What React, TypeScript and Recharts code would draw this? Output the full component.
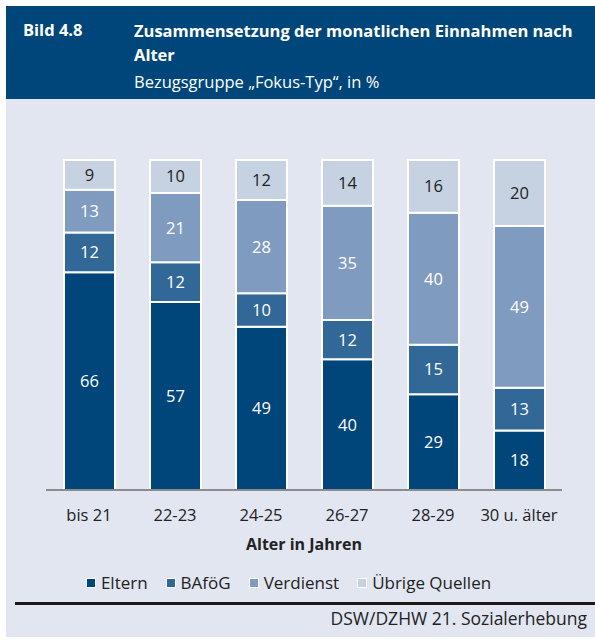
import { BarChart, Bar, XAxis, YAxis, LabelList } from "recharts";

const ages = ["bis 21", "22-23", "24-25", "26-27", "28-29", "30 u. älter"];
const eltern = [66, 57, 49, 40, 29, 18];
const bafoeg = [12, 12, 10, 12, 15, 13];
const verdienst = [13, 21, 28, 35, 40, 49];
const uebrige = [9, 10, 12, 14, 16, 20];

const FONT = "'Open Sans', sans-serif";

const series = [
  { key: "eltern", name: "Eltern", color: "#00467a", text: "#ffffff" },
  { key: "bafoeg", name: "BAföG", color: "#326897", text: "#ffffff" },
  { key: "verdienst", name: "Verdienst", color: "#7f9bbf", text: "#ffffff" },
  { key: "uebrige", name: "Übrige Quellen", color: "#c6d2e2", text: "#222222" },
];

const data = ages.map((age, i) => ({
  age,
  eltern: eltern[i],
  bafoeg: bafoeg[i],
  verdienst: verdienst[i],
  uebrige: uebrige[i],
}));

export default function App() {
  return (
    <div style={{ position: "absolute", left: 0, top: 0, width: 595, height: 642, background: "#fff", fontFamily: FONT, overflow: "hidden" }}>
      {/* header */}
      <div style={{ position: "absolute", left: 6, top: 6, width: 589, height: 93, background: "#00467a", color: "#fff" }}>
        <div style={{ position: "absolute", left: 17, top: 13, fontWeight: 700, fontSize: 16.5, lineHeight: "22px" }}>Bild 4.8</div>
        <div style={{ position: "absolute", left: 128, top: 13, width: 460, fontWeight: 700, fontSize: 16.5, lineHeight: "24px" }}>
          Zusammensetzung der monatlichen Einnahmen nach Alter
        </div>
        <div style={{ position: "absolute", left: 128, top: 65, fontSize: 16.5, lineHeight: "22px" }}>Bezugsgruppe „Fokus-Typ“, in %</div>
      </div>

      {/* plot area background */}
      <div style={{ position: "absolute", left: 6, top: 99, width: 589, height: 538, background: "#e1e6f0" }} />

      <div style={{ position: "absolute", left: 0, top: 0 }}>
        <BarChart
          width={595}
          height={560}
          data={data}
          stackOffset="expand"
          margin={{ top: 160, right: 33, bottom: 0, left: 46 }}
          barSize={51}
        >
          <XAxis
            dataKey="age"
            height={70}
            tickLine={false}
            tickMargin={13}
            axisLine={{ stroke: "#8c8c8c", strokeWidth: 2 }}
            tick={{ fill: "#222", fontSize: 16.5, fontFamily: FONT }}
            label={{ value: "Alter in Jahren", position: "insideBottom", offset: 10, fill: "#222", fontSize: 16, fontWeight: 700, fontFamily: FONT }}
          />
          <YAxis hide domain={[0, 1]} />
          {series.map((s) => (
            <Bar key={s.key} dataKey={s.key} name={s.name} stackId="a" fill={s.color} stroke="#fff" strokeWidth={2} isAnimationActive={false}>
              <LabelList dataKey={s.key} position="center" fill={s.text} fontSize={16.5} fontFamily={FONT} />
            </Bar>
          ))}
        </BarChart>
      </div>

      {/* legend */}
      <div style={{ position: "absolute", left: 0, top: 571, width: 577, display: "flex", justifyContent: "center", gap: 18, fontSize: 17, color: "#222" }}>
        {series.map((s) => (
          <div key={s.key} style={{ display: "flex", alignItems: "center", gap: 5 }}>
            <span style={{ display: "inline-block", width: 8, height: 8, background: s.color, border: "1.5px solid #fff" }} />
            <span>{s.name}</span>
          </div>
        ))}
      </div>

      {/* source */}
      <div style={{ position: "absolute", left: 15, top: 602, width: 580, height: 3, background: "#1a1a1a" }} />
      <div style={{ position: "absolute", right: 8, top: 606, fontSize: 17.5, color: "#222" }}>DSW/DZHW 21. Sozialerhebung</div>
    </div>
  );
}
